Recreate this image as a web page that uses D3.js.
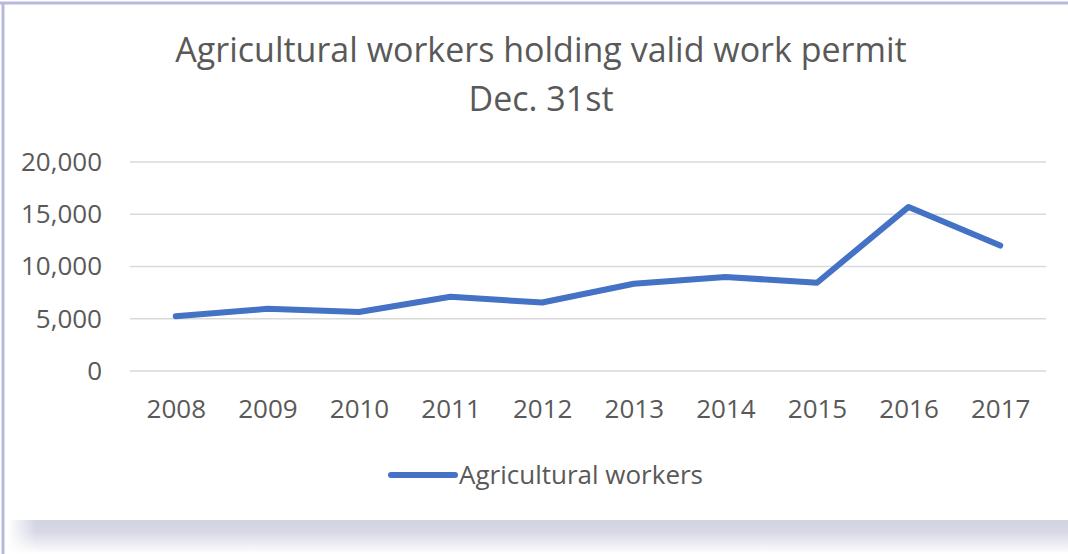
<!DOCTYPE html>
<html>
<head>
<meta charset="utf-8">
<script src="https://cdn.jsdelivr.net/npm/d3@7"></script>
<style>
  html, body { margin: 0; padding: 0; background: #fff; }
  svg { display: block; font-family: "Open Sans", "Noto Sans", sans-serif; }
</style>
</head>
<body>
<svg width="1068" height="554"></svg>
<script>
var svg = d3.select("svg"),
    width = +svg.attr("width"),
    height = +svg.attr("height");

// data
var years = ["2008", "2009", "2010", "2011", "2012", "2013", "2014", "2015", "2016", "2017"];
var workers = [5250, 5950, 5650, 7100, 6550, 8350, 9000, 8450, 15700, 12000];
var yTicks = [0, 5000, 10000, 15000, 20000];
var seriesName = "Agricultural workers";
var titleLines = ["Agricultural workers holding valid work permit", "Dec. 31st"];

var margin = {left: 130, right: 22, top: 162, bottom: 183};

var x = d3.scalePoint()
    .domain(years)
    .range([margin.left, width - margin.right])
    .padding(0.5);

var y = d3.scaleLinear()
    .domain([0, 20000])
    .range([height - margin.bottom, margin.top]);

// bottom shadow band
var defs = svg.append("defs");
var grad = defs.append("linearGradient")
    .attr("id", "shade").attr("x1", 0).attr("y1", 0).attr("x2", 0).attr("y2", 1);
grad.append("stop").attr("offset", "0%").attr("stop-color", "#d2d4e2");
grad.append("stop").attr("offset", "35%").attr("stop-color", "#d6d8e5");
grad.append("stop").attr("offset", "100%").attr("stop-color", "#ffffff");
var gradL = defs.append("linearGradient")
    .attr("id", "shadeL").attr("x1", 0).attr("y1", 0).attr("x2", 1).attr("y2", 0);
gradL.append("stop").attr("offset", "0%").attr("stop-color", "#fff").attr("stop-opacity", 1);
gradL.append("stop").attr("offset", "100%").attr("stop-color", "#fff").attr("stop-opacity", 0);

svg.append("rect")
    .attr("x", 8).attr("y", 520)
    .attr("width", width - 8).attr("height", 34)
    .attr("fill", "url(#shade)");
svg.append("rect")
    .attr("x", 8).attr("y", 520)
    .attr("width", 28).attr("height", 34)
    .attr("fill", "url(#shadeL)");

// frame edges
svg.append("line")
    .attr("x1", 0).attr("x2", width).attr("y1", 3).attr("y2", 3)
    .style("stroke", "#b9b9df").style("stroke-width", 3);
svg.append("line")
    .attr("x1", 3).attr("x2", 3).attr("y1", 2).attr("y2", height)
    .style("stroke", "#b9b9df").style("stroke-width", 3);

// title
svg.append("g")
    .selectAll("text")
    .data(titleLines)
    .enter().append("text")
      .attr("x", 541)
      .attr("y", function(d, i) { return 62 + i * 49; })
      .attr("text-anchor", "middle")
      .style("font-size", "34px")
      .style("fill", "#595959")
      .text(function(d) { return d; });

// grid
svg.append("g")
    .selectAll("line")
    .data(yTicks)
    .enter().append("line")
      .attr("x1", margin.left).attr("x2", width - margin.right)
      .attr("y1", function(d) { return y(d); })
      .attr("y2", function(d) { return y(d); })
      .style("stroke", "#d9d9d9").style("stroke-width", "1.5px");

// y axis labels
var yAxis = d3.axisLeft(y).tickValues(yTicks).tickSize(0).tickPadding(0)
    .tickFormat(d3.format(","));
svg.append("g")
    .attr("transform", "translate(102,0)")
    .call(yAxis)
    .call(function(g) { g.select(".domain").remove(); })
    .selectAll("text")
      .style("font-size", "26px")
      .style("font-family", "\"Open Sans\", sans-serif")
      .style("fill", "#595959");

// x axis labels
var xAxis = d3.axisBottom(x).tickSize(0).tickPadding(0);
svg.append("g")
    .attr("transform", "translate(0,400)")
    .call(xAxis)
    .call(function(g) { g.select(".domain").remove(); })
    .selectAll("text")
      .style("font-size", "26px")
      .style("font-family", "\"Open Sans\", sans-serif")
      .style("fill", "#595959");

// series line
var line = d3.line()
    .x(function(d, i) { return x(years[i]); })
    .y(function(d) { return y(d); });

svg.append("path")
    .datum(workers)
    .attr("d", line)
    .style("fill", "none")
    .style("stroke", "#4472c4")
    .style("stroke-width", "6px")
    .style("stroke-linejoin", "round")
    .style("stroke-linecap", "round");

// legend
var legend = svg.append("g").attr("transform", "translate(388,475)");
legend.append("line")
    .attr("x1", 3).attr("x2", 67).attr("y1", 0).attr("y2", 0)
    .style("stroke", "#4472c4").style("stroke-width", "6px")
    .style("stroke-linecap", "round");
legend.append("text")
    .attr("x", 71).attr("y", 9)
    .style("font-size", "26px")
    .style("fill", "#595959")
    .text(seriesName);
</script>
</body>
</html>
